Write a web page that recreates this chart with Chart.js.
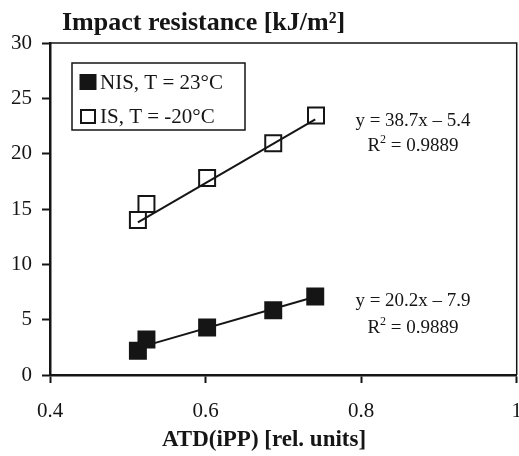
<!DOCTYPE html>
<html>
<head>
<meta charset="utf-8">
<script src="https://cdn.jsdelivr.net/npm/chart.js@4"></script>
<style>
  html, body { margin: 0; padding: 0; background: #fff; overflow: hidden; }
  #wrap { width: 530px; height: 456px; }
</style>
</head>
<body>
<div id="wrap"><canvas id="impactChart" width="530" height="456"></canvas></div>
<script>
// values
const atdNIS = [0.513, 0.524, 0.602, 0.687, 0.741];
const impactNIS = [2.2, 3.2, 4.3, 5.85, 7.1];
const atdIS = [0.513, 0.524, 0.602, 0.687, 0.742];
const impactIS = [14.0, 15.45, 17.8, 20.95, 23.45];

// trend line end points
const fitX = [0.513, 0.741];
const fitNIS = [2.45, 7.07];
const fitIS = [13.8, 23.1];

const xTicks = [0.4, 0.6, 0.8, 1];
const xTickLabels = ['0.4', '0.6', '0.8', '1'];
const yTicks = [0, 5, 10, 15, 20, 25, 30];

const seriesNames = ['NIS, T = 23°C', 'IS, T = -20°C'];
const fitEquations = ['y = 38.7x – 5.4', 'y = 20.2x – 7.9'];
const fitR2 = ['0.9889', '0.9889'];

const serif = '"Liberation Serif", "Times New Roman", serif';
const ink = '#151515';

function toPoints(xs, ys) {
  return xs.map((x, i) => ({ x: x, y: ys[i] }));
}

// titles, frame, legend box and fit equations
const textPlugin = {
  id: 'textPlugin',
  afterDraw(chart) {
    const ctx = chart.ctx;
    const a = chart.chartArea;
    ctx.save();
    ctx.fillStyle = ink;
    ctx.strokeStyle = ink;

    // top and right edge of the plot frame
    ctx.lineWidth = 1.5;
    ctx.beginPath();
    ctx.moveTo(a.left, a.top);
    ctx.lineTo(a.right, a.top);
    ctx.lineTo(a.right, a.bottom);
    ctx.stroke();

    ctx.textBaseline = 'alphabetic';
    ctx.textAlign = 'left';
    ctx.font = 'bold 26px ' + serif;
    ctx.fillText('Impact resistance [kJ/m²]', a.left + 12, 30);

    ctx.textAlign = 'center';
    ctx.font = 'bold 23px ' + serif;
    ctx.fillText('ATD(iPP) [rel. units]', a.left + 214, 446);

    // legend
    const lx = a.left + 22, ly = a.top + 20;
    ctx.lineWidth = 1.5;
    ctx.strokeRect(lx, ly, 173, 67);
    ctx.fillRect(lx + 7.5, ly + 11, 17, 16);
    ctx.lineWidth = 2;
    ctx.strokeRect(lx + 9, ly + 47, 14, 13);
    ctx.textAlign = 'left';
    ctx.font = '21px ' + serif;
    ctx.fillText(seriesNames[0], lx + 28, ly + 26);
    ctx.fillText(seriesNames[1], lx + 28, ly + 60);

    // fit equations
    const cx = a.left + 363;
    const rows = [[a.top + 83, a.top + 108], [a.top + 263, a.top + 290]];
    rows.forEach((r, i) => {
      ctx.textAlign = 'center';
      ctx.font = '19px ' + serif;
      ctx.fillText(fitEquations[i], cx, r[0]);
      const rest = ' = ' + fitR2[i];
      const wR = ctx.measureText('R').width;
      const wRest = ctx.measureText(rest).width;
      ctx.font = '12px ' + serif;
      const w2 = ctx.measureText('2').width;
      let x0 = cx - (wR + w2 + wRest) / 2;
      ctx.textAlign = 'left';
      ctx.font = '19px ' + serif;
      ctx.fillText('R', x0, r[1]);
      ctx.font = '12px ' + serif;
      ctx.fillText('2', x0 + wR, r[1] - 8);
      ctx.font = '19px ' + serif;
      ctx.fillText(rest, x0 + wR + w2, r[1]);
    });
    ctx.restore();
  }
};

const tickFont = { family: serif, size: 21 };

new Chart(document.getElementById('impactChart'), {
  type: 'scatter',
  data: {
    datasets: [
      {
        type: 'line',
        data: toPoints(fitX, fitIS),
        borderColor: ink,
        borderWidth: 2,
        pointRadius: 0,
        fill: false
      },
      {
        type: 'line',
        data: toPoints(fitX, fitNIS),
        borderColor: ink,
        borderWidth: 2,
        pointRadius: 0,
        fill: false
      },
      {
        label: seriesNames[1],
        data: toPoints(atdIS, impactIS),
        pointStyle: 'rect',
        pointRadius: 11.3,
        backgroundColor: '#fff',
        borderColor: ink,
        borderWidth: 2
      },
      {
        label: seriesNames[0],
        data: toPoints(atdNIS, impactNIS),
        pointStyle: 'rect',
        pointRadius: 12.7,
        backgroundColor: ink,
        borderColor: ink,
        borderWidth: 0
      }
    ]
  },
  options: {
    responsive: false,
    animation: false,
    layout: { padding: { top: 43, right: 13, bottom: 0, left: 0 } },
    plugins: {
      legend: { display: false },
      tooltip: { enabled: false }
    },
    scales: {
      x: {
        type: 'linear',
        min: 0.4,
        max: 1,
        afterBuildTicks: function (s) { s.ticks = xTicks.map(v => ({ value: v })); },
        afterFit: function (s) { s.height = 81; s.paddingLeft = 0; s.paddingRight = 0; },
        ticks: {
          font: tickFont, color: ink, padding: 16, maxRotation: 0,
          callback: function (v, i) { return xTickLabels[i]; }
        },
        grid: { drawOnChartArea: false, tickLength: 8, tickWidth: 2, tickColor: ink },
        border: { color: ink, width: 2.5 }
      },
      y: {
        min: 0,
        max: 30,
        afterBuildTicks: function (s) { s.ticks = yTicks.map(v => ({ value: v })); },
        afterFit: function (s) { s.width = 50; s.paddingTop = 0; s.paddingBottom = 0; },
        ticks: { font: tickFont, color: ink, padding: 10 },
        grid: { drawOnChartArea: false, tickLength: 8, tickWidth: 2, tickColor: ink },
        border: { color: ink, width: 2.5 }
      }
    }
  },
  plugins: [textPlugin]
});
</script>
</body>
</html>
